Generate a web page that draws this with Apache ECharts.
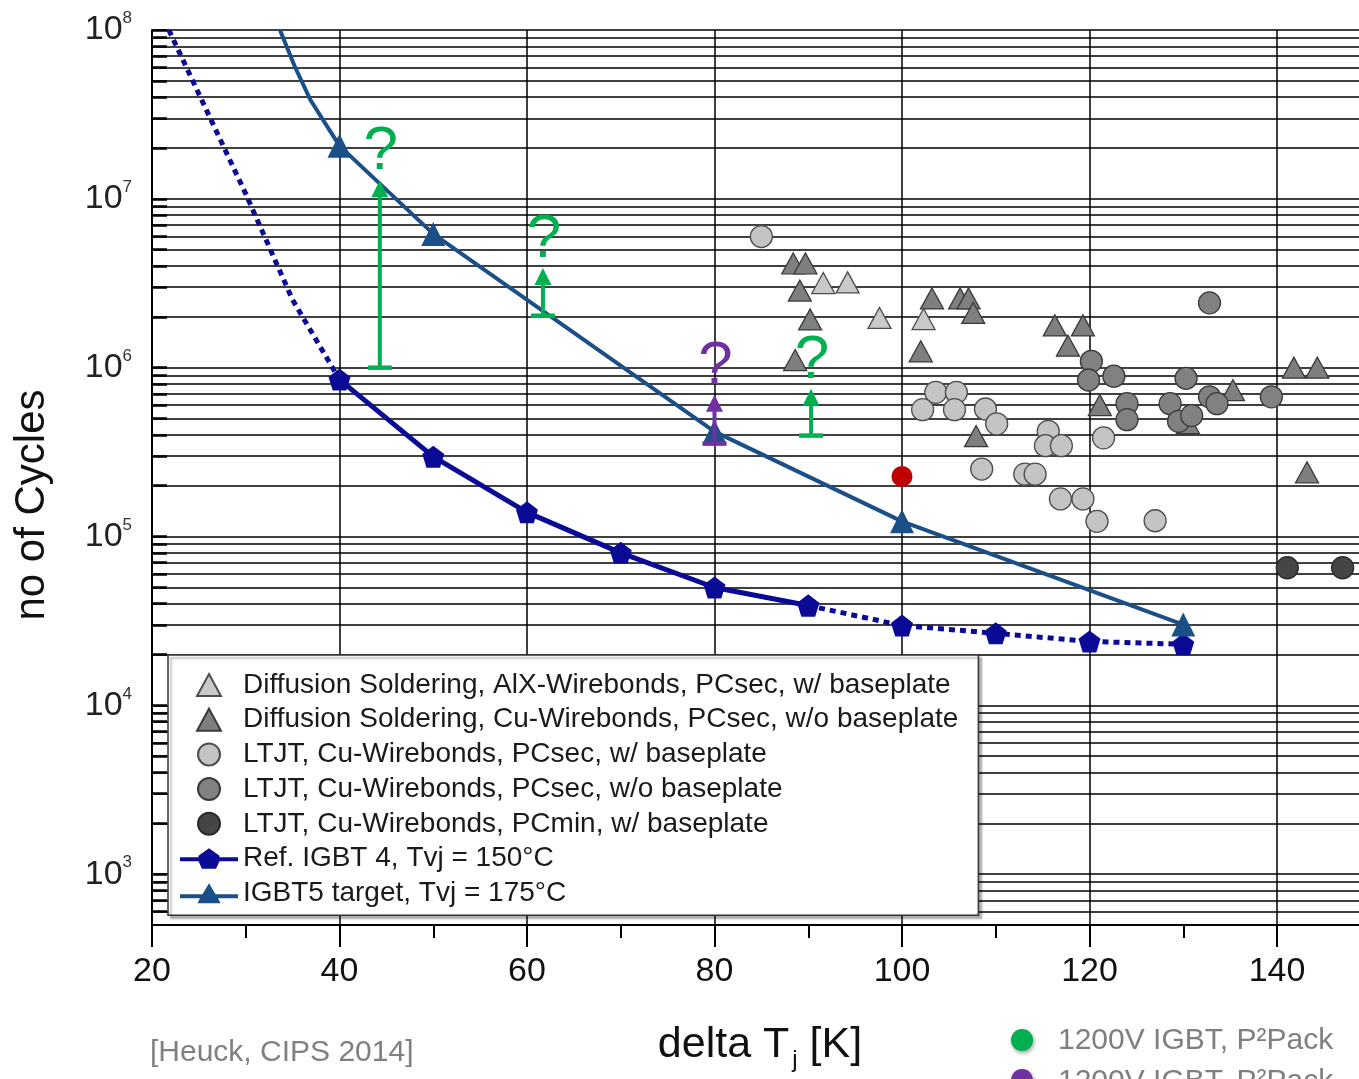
<!DOCTYPE html>
<html><head><meta charset="utf-8">
<script src="https://cdn.jsdelivr.net/npm/echarts@6/dist/echarts.min.js"></script>
<style>html,body{margin:0;padding:0;background:#fff}#c{width:1359px;height:1079px}</style>
</head><body><div id="c"></div>
<script>
// ---------- data ----------
const igbt4X = [40, 50, 60, 70, 80, 90, 100, 110, 120, 130];
const igbt4Y = [8.5e5, 2.97e5, 1.39e5, 8.0e4, 4.99e4, 3.9e4, 2.97e4, 2.67e4, 2.39e4, 2.3e4];
const igbt4ExtX = [21.8, 30, 35, 40];
const igbt4ExtY = [1e8, 1.07e7, 2.52e6, 8.5e5];

const igbt5X = [40, 50, 80, 100, 130];
const igbt5Y = [2.06e7, 6.2e6, 4.18e5, 1.23e5, 3.01e4];
const igbt5ExtX = [33.65, 35.25, 36.9];
const igbt5ExtY = [1e8, 6.04e7, 3.85e7];

const dsAlxPts = [[91.6,3.17e6],[94.2,3.2e6],[97.6,1.97e6],[102.3,1.94e6]];
const dsCuPts = [[88.4,4.14e6],[89.7,4.14e6],[89.1,2.86e6],[90.2,1.93e6],[88.6,1.11e6],[103.2,2.57e6],
  [106.2,2.57e6],[107.1,2.57e6],[107.6,2.11e6],[102.0,1.25e6],[107.9,3.93e5],[116.3,1.78e6],[119.3,1.78e6],
  [117.7,1.35e6],[121.1,6.0e5],[130.5,4.7e5],[135.3,7.35e5],[141.8,1.0e6],[144.3,1.0e6],[143.2,2.4e5]];
const ltjtSecBpPts = [[85.0,5.98e6],[103.6,7.14e5],[105.8,7.14e5],[102.2,5.64e5],[105.6,5.64e5],[108.9,5.69e5],
  [110.1,4.65e5],[108.5,2.51e5],[113.1,2.34e5],[114.2,2.34e5],[115.6,4.2e5],[115.3,3.45e5],[117.0,3.45e5],
  [116.9,1.67e5],[119.3,1.67e5],[120.8,1.23e5],[121.5,3.84e5],[127.0,1.24e5]];
const ltjtSecNoBpPts = [[120.2,1.09e6],[119.9,8.45e5],[122.6,8.9e5],[124.0,6.12e5],[124.0,4.92e5],[128.6,6.12e5],
  [130.3,8.65e5],[129.5,4.81e5],[130.9,5.2e5],[132.8,6.72e5],[133.6,6.12e5],[132.8,2.42e6],[139.4,6.72e5]];
const ltjtMinBpPts = [[141.1,6.53e4],[147.0,6.53e4]];

const redX = [100];
const redY = [2.27e5];

const annoX = [44.3, 61.7, 80, 90.3];
const annoFrom = [1.0e6, 2.03e6, 3.55e5, 3.96e5];
const annoTo = [1.29e7, 3.9e6, 6.92e5, 7.5e5];

const seriesNames = [
  'Diffusion Soldering, AlX-Wirebonds, PCsec, w/ baseplate',
  'Diffusion Soldering, Cu-Wirebonds, PCsec, w/o baseplate',
  'LTJT, Cu-Wirebonds, PCsec, w/ baseplate',
  'LTJT, Cu-Wirebonds, PCsec, w/o baseplate',
  'LTJT, Cu-Wirebonds, PCmin, w/ baseplate',
  'Ref. IGBT 4, Tvj = 150°C',
  'IGBT5 target, Tvj = 175°C'
];
const yDecades = [2, 3, 4, 5, 6, 7];
const yMult = [1, 2, 3, 4, 5, 6, 7, 8, 9];

// ---------- styles ----------
const FONT = '"Liberation Sans", Arial, sans-serif';
const C4 = '#0a0a96', C5 = '#1b4f88';
const annoColors = ['#00b050', '#00b050', '#7030a0', '#00b050'];
const PENTA = 'path://M50,0 L97.6,34.5 L79.4,90.5 L20.6,90.5 L2.4,34.5 Z';
const TRI = 'path://M50,0 L100,92 L0,92 Z';
const ICON_PENTA = 'path://M0,9 L18.5,9 L18.5,7.6 L29,0 L39.5,7.6 L39.5,9 L58,9 L58,13 L39.5,13 L36,20.5 L22,20.5 L18.5,13 L0,13 Z';
const ICON_TRI = 'path://M0,12 L22.5,12 L29,1 L35.5,12 L58,12 L58,16 L38,16 L40.5,21 L17.5,21 L20,16 L0,16 Z';

const gridVals = [];
yDecades.forEach(d => yMult.forEach(m => { const v = m * Math.pow(10, d); if (v > 500) gridVals.push(v); }));
gridVals.push(1e8);

const zip = (xs, ys) => xs.map((x, i) => [x, ys[i]]);

const chart = echarts.init(document.getElementById('c'), null, {renderer: 'canvas'});
const option = {
  animation: false,
  backgroundColor: '#fff',
  grid: {left: 152, top: 30, right: -105.5, bottom: 154, outerBoundsMode: 'none', containLabel: false},
  xAxis: {
    type: 'value', min: 20, max: 160, interval: 20,
    axisLine: {show: true, onZero: false, lineStyle: {color: '#000', width: 2}},
    axisTick: {show: true, inside: false, length: 22, lineStyle: {color: '#000', width: 2}},
    minorTick: {show: true, splitNumber: 2, length: 13, lineStyle: {color: '#000', width: 2}},
    axisLabel: {fontSize: 34, color: '#111', margin: 30, fontFamily: FONT},
    splitLine: {show: true, lineStyle: {color: '#000', width: 1.5}}
  },
  yAxis: {
    type: 'log', logBase: 10, min: 500, max: 1e8,
    axisLine: {show: true, lineStyle: {color: '#000', width: 2}},
    axisTick: {show: false},
    splitLine: {show: false},
    axisLabel: {
      showMinLabel: false, margin: 20,
      formatter: v => {
        const l = Math.log10(v), e = Math.round(l);
        if (Math.abs(l - e) > 1e-6) return '';
        return '{b|10}{s|' + e + '}';
      },
      rich: {
        b: {fontSize: 34, lineHeight: 40, color: '#222', fontFamily: FONT},
        s: {fontSize: 17, lineHeight: 17, verticalAlign: 'top', color: '#333', fontFamily: FONT}
      }
    }
  },
  legend: {
    orient: 'vertical', left: 168, top: 655, z: 20,
    padding: [15, 20, 7, 12],
    itemGap: 4.7, itemWidth: 58, itemHeight: 22,
    backgroundColor: '#fff', borderColor: '#333', borderWidth: 1.5,
    shadowColor: 'rgba(0,0,0,0.3)', shadowOffsetX: 3, shadowOffsetY: 3, shadowBlur: 2,
    textStyle: {fontSize: 28, color: '#1a1a1a', fontFamily: FONT, lineHeight: 30},
    selectedMode: false,
    data: [
      {name: seriesNames[0], icon: TRI},
      {name: seriesNames[1], icon: TRI},
      {name: seriesNames[2]},
      {name: seriesNames[3]},
      {name: seriesNames[4]},
      {name: seriesNames[5], icon: ICON_PENTA},
      {name: seriesNames[6], icon: ICON_TRI}
    ]
  },
  graphic: [
    {type: 'text', x: 32, y: 505, rotation: Math.PI / 2,
     style: {text: 'no of Cycles', fontSize: 42, fontFamily: FONT, fill: '#111', align: 'center', verticalAlign: 'middle'}},
    {type: 'text', x: 760, y: 1045,
     style: {text: '{a|delta T}{j|j}{a| [K]}', align: 'center', verticalAlign: 'middle',
       rich: {a: {fontSize: 43, fontFamily: FONT, fill: '#111'},
              j: {fontSize: 24, fontFamily: FONT, fill: '#111', padding: [30, 0, 0, 3]}}}},
    {type: 'text', x: 150, y: 1053,
     style: {text: '[Heuck, CIPS 2014]', fontSize: 30, fontFamily: FONT, fill: '#808080', align: 'left', verticalAlign: 'middle'}},
    {type: 'circle', shape: {cx: 1022, cy: 1040, r: 11},
     style: {fill: '#00b050', shadowBlur: 4, shadowColor: 'rgba(0,0,0,0.4)', shadowOffsetX: 1, shadowOffsetY: 2}},
    {type: 'text', x: 1058, y: 1041,
     style: {text: '1200V IGBT, P²Pack', fontSize: 30, fontFamily: FONT, fill: '#7f7f7f', align: 'left', verticalAlign: 'middle'}},
    {type: 'circle', shape: {cx: 1022, cy: 1080, r: 11},
     style: {fill: '#7030a0', shadowBlur: 4, shadowColor: 'rgba(0,0,0,0.4)', shadowOffsetX: 1, shadowOffsetY: 2}},
    {type: 'text', x: 1058, y: 1082,
     style: {text: '1200V IGBT, P²Pack', fontSize: 30, fontFamily: FONT, fill: '#7f7f7f', align: 'left', verticalAlign: 'middle'}}
  ],
  series: [
    {
      type: 'line', name: 'grid', data: [[20, 1e8]], symbol: 'none', silent: true, z: 0,
      markLine: {
        silent: true, symbol: 'none', animation: false, label: {show: false}, z: 0,
        lineStyle: {color: '#000', width: 1.5, type: 'solid'},
        data: gridVals.map(v => ({yAxis: v}))
          .concat(gridVals.map(v => [{coord: [20, v], lineStyle: {width: 2.5}}, {coord: [21.6, v]}]))
      }
    },
    {type: 'scatter', name: seriesNames[0], data: dsAlxPts, symbol: 'triangle', symbolSize: [23, 21], z: 3,
     itemStyle: {color: '#c9c9c9', borderColor: '#4d4d4d', borderWidth: 1.3, opacity: 1}},
    {type: 'scatter', name: seriesNames[1], data: dsCuPts, symbol: 'triangle', symbolSize: [23, 21], z: 3,
     itemStyle: {color: '#7f7f7f', borderColor: '#3a3a3a', borderWidth: 1.3, opacity: 1}},
    {type: 'scatter', name: seriesNames[2], data: ltjtSecBpPts, symbol: 'circle', symbolSize: 22, z: 3,
     itemStyle: {color: '#c4c4c4', borderColor: '#4d4d4d', borderWidth: 1.3, opacity: 1}},
    {type: 'scatter', name: seriesNames[3], data: ltjtSecNoBpPts, symbol: 'circle', symbolSize: 22, z: 3,
     itemStyle: {color: '#818181', borderColor: '#3a3a3a', borderWidth: 1.3, opacity: 1}},
    {type: 'scatter', name: seriesNames[4], data: ltjtMinBpPts, symbol: 'circle', symbolSize: 22, z: 3,
     itemStyle: {color: '#454545', borderColor: '#2a2a2a', borderWidth: 1.3, opacity: 1}},
    {type: 'line', name: seriesNames[5], data: zip(igbt4X, igbt4Y).slice(0, 6), z: 4,
     symbol: PENTA, symbolSize: 22, showAllSymbol: true,
     lineStyle: {color: C4, width: 5}, itemStyle: {color: C4}},
    {type: 'line', name: 'igbt4-dotted', data: zip(igbt4X, igbt4Y).slice(5), z: 4,
     symbol: PENTA, symbolSize: 22, showAllSymbol: true,
     lineStyle: {color: C4, width: 5, type: [6, 5]}, itemStyle: {color: C4}},
    {type: 'line', name: 'igbt4-ext', data: zip(igbt4ExtX, igbt4ExtY), z: 4, symbol: 'none',
     lineStyle: {color: C4, width: 5, type: [6, 5]}},
    {type: 'line', name: seriesNames[6], z: 4, symbol: 'triangle', symbolSize: 24, showAllSymbol: true,
     data: zip(igbt5ExtX, igbt5ExtY).map(p => ({value: p, symbol: 'none'})).concat(zip(igbt5X, igbt5Y)),
     lineStyle: {color: C5, width: 4}, itemStyle: {color: C5}},
    {type: 'scatter', name: 'new', data: zip(redX, redY), symbol: 'circle', symbolSize: 21, z: 5,
     itemStyle: {color: '#c00000', opacity: 1}},
    {
      type: 'custom', name: 'anno', z: 6,
      data: annoX.map((x, i) => [x, annoFrom[i], annoTo[i]]),
      encode: {x: 0, y: [1, 2]},
      renderItem: (params, api) => {
        const i = params.dataIndex;
        const p0 = api.coord([api.value(0), api.value(1)]);
        const p1 = api.coord([api.value(0), api.value(2)]);
        const c = annoColors[i];
        const head = 17, hw = 8.5;
        return {type: 'group', children: [
          {type: 'line', shape: {x1: p0[0], y1: p0[1], x2: p1[0], y2: p1[1] + head - 2}, style: {stroke: c, lineWidth: 4}},
          {type: 'line', shape: {x1: p0[0] - 12, y1: p0[1], x2: p0[0] + 12, y2: p0[1]}, style: {stroke: c, lineWidth: 4.5}},
          {type: 'polygon', shape: {points: [[p1[0], p1[1]], [p1[0] - hw, p1[1] + head], [p1[0] + hw, p1[1] + head]]}, style: {fill: c}},
          {type: 'text', x: p1[0] + 1, y: p1[1] + 3,
           style: {text: '?', fill: c, fontSize: 62, fontFamily: FONT, align: 'center', verticalAlign: 'bottom'}}
        ]};
      }
    }
  ]
};
chart.setOption(option);
</script>
</body></html>
